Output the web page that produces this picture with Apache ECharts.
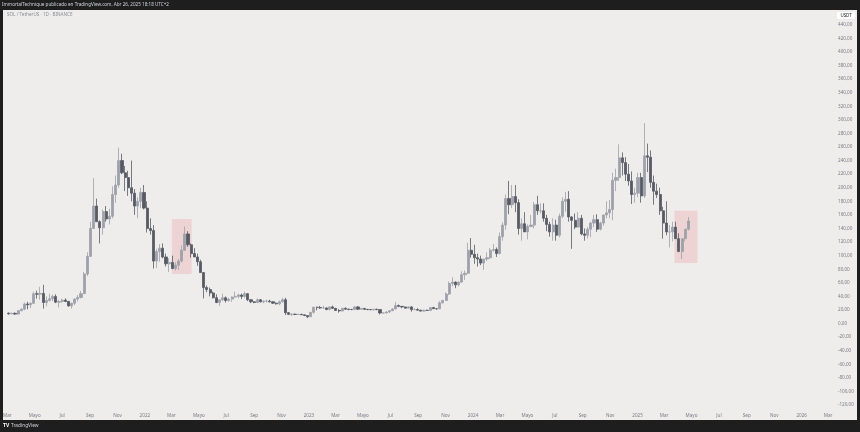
<!DOCTYPE html>
<html><head><meta charset="utf-8">
<script src="https://cdn.jsdelivr.net/npm/echarts@6/dist/echarts.min.js"></script>
<style>html,body{margin:0;padding:0;background:#1e1e1e}#c{width:860px;height:432px}</style>
</head><body><div id="c"></div>
<script>
// Axis range (daily categories) and first weekly candle
const axisStart = '2021-02-25';
const axisDays = 1839;
const firstWeek = '2021-03-01';
const monthLabels = {0: null, 2: 'Mar', 4: 'Mayo', 6: 'Jul', 8: 'Sep', 10: 'Nov'};
const priceTicks = {min: -140, max: 460, step: 20};

// Weekly candles [open, high, low, close], SOL / TetherUS
const w2021 = [
[15.3,16.3,12.9,14.4],[14.4,15.9,13.7,15.1],[15.1,16.2,13.0,13.9],[13.9,19.5,13.2,19.1],[19.1,22.4,17.8,21.2],
[21.2,30.8,19.6,28.8],[28.8,32.0,21.0,27.6],[27.6,31.2,22.9,29.7],[29.7,47.0,29.5,43.8],[43.8,48.4,36.7,43.3],
[43.3,54.1,35.1,44.4],[44.4,57.0,22.0,31.0],[31.0,40.0,25.5,34.0],[34.0,44.0,32.5,36.5],[36.5,42.5,33.0,40.0],
[40.0,43.0,30.0,31.5],[31.5,35.0,23.5,32.5],[32.5,36.5,30.5,34.5],[34.5,37.0,31.5,32.5],[32.5,33.5,25.0,26.0],
[26.0,30.5,22.0,30.0],[30.0,37.0,27.0,36.0],[36.0,42.0,32.5,38.5],[38.5,48.0,37.0,44.0],[44.0,76.0,44.0,73.0],
[73.0,105,70.0,99.0],[99.0,150,98.0,140],[140,214,140,173],[173,184,150,150],[150,152,118,141],
[141,168,131,165],[165,173,150,154],[154,169,146,158],[158,202,155,190],[190,218,178,204],
[204,259,200,240],[240,250,220,222],[222,232,195,215],[215,225,188,200],[200,240,180,192],
[192,198,160,173],[173,186,155,180],[180,200,170,193],[193,204,168,170]
];
const w2022 = [
[170,180,134,140],[140,155,131,137],[137,145,81,92],[92,110,82,106],[106,117,91,111],
[111,118,96,98],[98,103,84,88],[88,96,76,90],[90,100,80,81],[81,90,78,86],
[86,95,79,92],[92,115,90,108],[108,143,107,132],[132,136,113,116],[116,118,97,103],
[103,111,98,98],[98,103,85,91],[91,94,75,75],[75,76,37,53],[53,56,46,50],
[50,53,40,45],[45,47,37,38],[38,43,30,31],[31,35,26,35],[35,44,33,38],
[38,40,31,34],[34,38,32,36],[36,40,32,39],[39,47,38,40],[40,44,37,42],
[42,44,36,40],[40,47,38,44],[44,45,33,35],[35,36,30,32],[32,33,30,31],
[31,37,30,35],[35,36,31,32],[32,34,30,33],[33,35,31,33],[33,35,31,32],
[32,33,29,30],[30,31,28,29],[29,34,27,32],[32,38,31,35],[35,38,12.5,16],
[16,17,12.5,13.5],[13.5,15,11,13.8],[13.8,14.5,12.8,13.4],[13.4,14,12.5,13.5],[13.5,14.4,12.6,12.9],
[12.9,13,10.9,11.8],[11.8,12,8,10]
];
const w2023 = [
[10,17,9.9,16.5],[16.5,25,14.5,24],[24,25,19.5,23.5],[23.5,26,21.5,23],[23,26,22,23],
[23,23.5,19.5,20.8],[20.8,25,19.5,24.5],[24.5,26.5,21.5,22.4],[22.4,23,18.5,19.2],[19.2,21.5,16,18.5],
[18.5,23,18,22.5],[22.5,23.5,20.3,21.2],[21.2,21.6,19.5,20.8],[20.8,21.5,19.8,20.5],[20.5,25.5,20.2,24.5],
[24.5,25.7,20.5,21],[21,23,20.4,22.3],[22.3,22.9,20.3,20.9],[20.9,21.5,19.7,20.6],[20.6,21.2,19.8,20.3],
[20.3,21.5,18.9,21],[21,22,19.7,20.5],[20.5,21,13.5,15.5],[15.5,16.2,14.5,15.6],[15.6,18,15,17],
[17,19.5,15.5,19],[19,22.5,18.3,21.5],[21.5,32,21,26.5],[26.5,28,24,25.3],[25.3,25.7,22.6,24.4],
[24.4,25,22.3,22.7],[22.7,25.5,22.6,24.5],[24.5,25.5,17.5,20.5],[20.5,22.5,20,20.6],[20.6,22.6,19.2,19.7],
[19.7,20.2,17.8,18.3],[18.3,20.5,17.3,19.5],[19.5,20.5,18.8,19.3],[19.3,23.6,19,23.5],[23.5,24.5,21.7,21.9],
[21.9,22.1,20.7,21.6],[21.6,33,21.3,30.5],[30.5,35,29.5,34],[34,46,33.5,43.5],[43.5,62,42,59],
[59,68,55,61],[61,62,52,57],[57,62,55,61],[61,77,60,72],[72,78,64,74],
[74,119,73,108],[108,126,97,102]
];
const w2024 = [
[102,116,88,97],[97,103,84,95],[95,100,86,89],[89,92,79,95],[95,105,92,97],
[97,111,95,108],[108,117,106,109],[109,112,98,103],[103,134,102,128],[128,149,122,145],
[145,190,138,184],[184,210,161,175],[175,204,170,187],[187,204,164,178],[178,183,131,140],
[140,155,122,147],[147,164,140,135],[135,146,124,143],[143,160,142,145],[145,179,140,175],
[175,188,160,166],[166,177,162,166],[166,177,150,155],[155,160,136,146],[146,150,128,135],
[135,155,122,145],[145,153,122,130],[130,162,127,158],[158,186,155,180],[180,194,165,183],
[183,195,150,157],[157,158,110,152],[152,162,139,142],[142,164,141,155],[155,160,130,132],
[132,140,122,130],[130,142,125,139],[139,150,127,148],[148,160,142,153],[153,161,135,139],
[139,150,137,148],[148,160,144,160],[160,180,155,163],[163,182,155,168],[168,222,152,211],
[211,228,195,215],[215,264,210,244],[244,252,218,237],[237,245,210,220],[220,235,203,210],
[210,224,176,190],[190,200,178,192],[192,222,186,215]
];
const w2025 = [
[215,222,178,188],[188,295,185,247],[247,265,223,245],[245,255,200,208],[208,218,175,195],
[195,206,185,190],[190,200,160,166],[166,172,125,148],[148,180,130,135],[135,145,112,135],
[135,150,121,142],[142,150,125,125],[125,133,106,106],[106,125,95,125],[125,139,121,139],
[139,157,137,151]
];
// Highlight boxes: [startDate, endDate, top, bottom]
const highlightBoxes = [
  ['2022-03-02', '2022-04-15', 154, 73],
  ['2025-03-24', '2025-05-14', 166, 89]
];

function dayStr(d){return d.toISOString().slice(0,10);}
const t0 = Date.parse(axisStart + 'T00:00:00Z');
const categories = [];
for (let i = 0; i < axisDays; i++) categories.push(dayStr(new Date(t0 + i*86400000)));
const weekOffset = Math.round((Date.parse(firstWeek + 'T00:00:00Z') - t0)/86400000) + 3;
const weeks = [].concat(w2021, w2022, w2023, w2024, w2025);
const candles = weeks.map((w, k) => [weekOffset + 7*k, w[0], w[3], w[2], w[1]]);

const txt = '#787b86';
const font = 'Noto Sans';
const chart = echarts.init(document.getElementById('c'), null, {renderer: 'canvas'});
chart.setOption({
  animation: false,
  backgroundColor: '#eeedec',
  grid: {left: 3, right: 28, top: 11.2, bottom: 432 - 418.6},
  xAxis: {
    type: 'category', data: categories, boundaryGap: true,
    axisLine: {show: false}, axisTick: {show: false}, splitLine: {show: false},
    axisLabel: {
      inside: true, color: txt, fontSize: 4.6, fontFamily: font, margin: 0.5,
      interval: (i, v) => v.slice(8) === '01' && (parseInt(v.slice(5,7),10)-1) in monthLabels,
      formatter: v => { const m = parseInt(v.slice(5,7),10)-1; return m === 0 ? v.slice(0,4) : monthLabels[m]; }
    }
  },
  yAxis: {
    type: 'value', position: 'right', min: priceTicks.min, max: priceTicks.max, interval: priceTicks.step,
    axisLine: {show: false}, axisTick: {show: false}, splitLine: {show: false},
    axisLabel: {color: txt, fontSize: 4.6, fontFamily: font, margin: 6, align: 'left',
      showMinLabel: false, showMaxLabel: false,
      formatter: v => v.toFixed(2).replace('.', ',')}
  },
  series: [{
    type: 'candlestick',
    data: candles,
    encode: {x: 0, y: [1, 2, 3, 4]},
    barWidth: 2.6,
    itemStyle: {color: '#9ea1a9', color0: '#575a63', borderColor: '#9ea1a9', borderColor0: '#575a63', borderWidth: 0.8},
    markArea: {
      silent: true,
      itemStyle: {color: 'rgba(242,54,69,0.14)'},
      data: highlightBoxes.map(b => [{xAxis: b[0], yAxis: b[2]}, {xAxis: b[1], yAxis: b[3]}])
    }
  }],
  graphic: [
    {type: 'rect', z: 100, shape: {x: 0, y: 0, width: 860, height: 10}, style: {fill: '#1e1e1e'}},
    {type: 'rect', z: 100, shape: {x: 0, y: 420, width: 860, height: 12}, style: {fill: '#1e1e1e'}},
    {type: 'rect', z: 100, shape: {x: 0, y: 0, width: 3, height: 432}, style: {fill: '#1e1e1e'}},
    {type: 'rect', z: 100, shape: {x: 857, y: 0, width: 3, height: 432}, style: {fill: '#1e1e1e'}},
    {type: 'text', z: 101, x: 2, y: 5, style: {text: 'ImmortalTechnique publicado en TradingView.com, Abr 26, 2025 18:18 UTC+2', fill: '#d1d4dc', fontSize: 4.6, fontFamily: font, verticalAlign: 'middle'}},
    {type: 'text', z: 101, x: 7, y: 15, style: {text: 'SOL / TetherUS · 1D · BINANCE', fill: '#8a8d96', fontSize: 4.6, fontFamily: font, verticalAlign: 'middle'}},
    {type: 'rect', z: 101, shape: {x: 837, y: 12, width: 18, height: 7, r: 1}, style: {fill: '#ffffff'}},
    {type: 'text', z: 102, x: 846, y: 15.5, style: {text: 'USDT', fill: '#131722', fontSize: 4.4, fontFamily: font, align: 'center', verticalAlign: 'middle'}},
    {type: 'text', z: 101, x: 3, y: 426, style: {text: 'TV', fill: '#ffffff', fontSize: 5, fontWeight: 'bold', fontFamily: font, verticalAlign: 'middle'}},
    {type: 'text', z: 101, x: 11, y: 426, style: {text: 'TradingView', fill: '#d1d4dc', fontSize: 4.8, fontFamily: font, verticalAlign: 'middle'}}
  ]
});
</script></body></html>
